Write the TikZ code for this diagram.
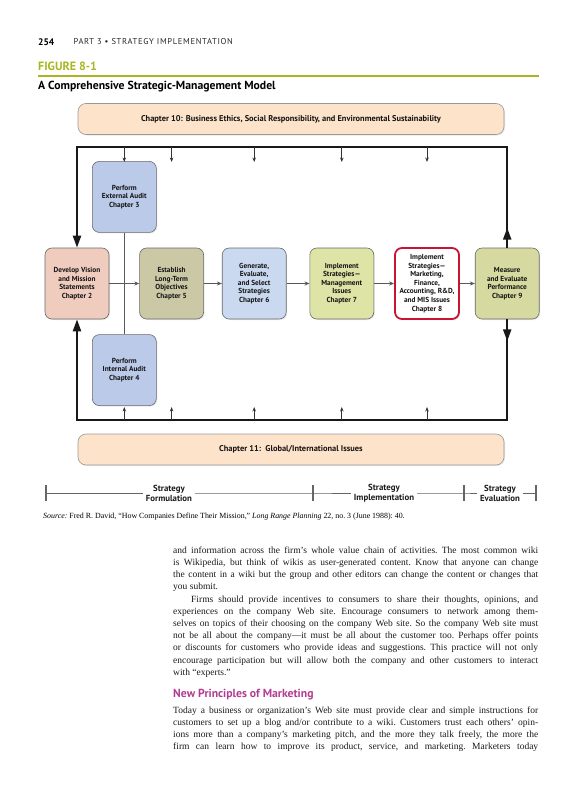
\documentclass[tikz,border=0pt]{standalone}
\usepackage{fontspec}
\setmainfont{Liberation Serif}
\setsansfont{PT Sans}
\usepackage{xcolor}
\usetikzlibrary{arrows.meta,calc,positioning,shadows,decorations.markings}

\definecolor{figgreen}{RGB}{168,182,32}
\definecolor{headpink}{RGB}{178,60,146}
\definecolor{peach}{RGB}{252,227,202}
\definecolor{salmon}{RGB}{240,204,190}
\definecolor{auditblue}{RGB}{186,202,232}
\definecolor{khaki}{RGB}{203,200,166}
\definecolor{paleblue}{RGB}{202,217,240}
\definecolor{limey}{RGB}{222,227,166}
\definecolor{olivey}{RGB}{214,218,160}
\definecolor{stratred}{RGB}{200,20,50}
\definecolor{boxline}{RGB}{105,105,105}

\newcommand{\bodyfont}{\fontsize{9.5}{12.2}\selectfont\frenchspacing}

\begin{document}
\begin{tikzpicture}[x=1pt,y=-1pt,>=Stealth,
    chapbox/.style={draw=boxline, line width=.6pt, rounded corners=7pt,
      minimum width=64pt, minimum height=71pt, inner sep=1pt, align=center,
      text=black!92, font=\sffamily\bfseries\fontsize{7.3}{8.6}\selectfont,
      drop shadow={shadow xshift=1pt, shadow yshift=-1pt, fill=black!18}},
    banner/.style={chapbox, fill=peach, draw=black!40, rounded corners=8pt,
      minimum width=426pt, minimum height=31pt,
      font=\sffamily\bfseries\fontsize{8.4}{10}\selectfont},
    flow/.style={draw=black!65, line width=.9pt, -{Stealth[length=5pt,width=4pt]}},
    feedback/.style={draw=black!90, line width=2.2pt, -{Triangle[length=12pt,width=8pt]}},
    tick/.style={draw=black!80, line width=.8pt, -{Stealth[length=4.5pt,width=3.5pt]}},
    scaleline/.style={draw=black!60, line width=.8pt},
    phase/.style={inner sep=3pt, align=center, text=black!90,
      font=\sffamily\bfseries\fontsize{8.8}{10}\selectfont}]
  \useasboundingbox (0,0) rectangle (576,800);
  \tikzstyle{pagetext}=[anchor=west, inner sep=0pt]

  % page head
  \node[pagetext, font=\sffamily\bfseries\fontsize{9.5}{11}\selectfont] (pgnum) at (38,42) {254};
  \node[pagetext, font=\sffamily\fontsize{8.5}{10}\selectfont\addfontfeature{LetterSpace=8}, text=black!85] (runhead) at (73.5,42) {PART 3 \textbullet\ STRATEGY IMPLEMENTATION};
  \node[pagetext, font=\sffamily\bfseries\fontsize{12}{14}\selectfont, text=figgreen] (figno) at (38,66) {FIGURE 8-1};
  \draw[figgreen, line width=1.6pt] (38,76) -- (539,76);
  \node[pagetext, font=\sffamily\bfseries\fontsize{11.7}{13}\selectfont] (figtitle) at (38,87) {A Comprehensive Strategic-Management Model};

  % banners
  \node[banner] (ethics) at (291,119) {Chapter 10: Business Ethics, Social Responsibility, and Environmental Sustainability};
  \node[banner] (global) at (291,449.5) {Chapter 11:\ \ Global/International Issues};

  % main row
  \node[chapbox, fill=salmon] (dev) at (77,283.5) {Develop Vision\\and Mission\\Statements\\Chapter 2};
  \node[chapbox, fill=khaki] (est) [right=30pt of dev] {Establish\\Long-Term\\Objectives\\Chapter 5};
  \node[chapbox, fill=paleblue] (gen) [right=18pt of est] {Generate,\\Evaluate,\\and Select\\Strategies\\Chapter 6};
  \node[chapbox, fill=limey] (imp) [right=23pt of gen] {Implement\\Strategies—\\Management\\Issues\\Chapter 7};
  \node[chapbox, fill=white, draw=stratred, line width=1.8pt] (mis) [right=20pt of imp] {Implement\\Strategies—\\Marketing,\\Finance,\\Accounting, R\&D,\\and MIS Issues\\Chapter 8};
  \node[chapbox, fill=olivey] (meas) [right=15pt of mis] {Measure\\and Evaluate\\Performance\\Chapter 9};

  % audits
  \coordinate (cross) at ($(dev.east)!.5!(est.west)$);
  \coordinate (audtop) at (dev.north -| cross);
  \coordinate (audbot) at (dev.south -| cross);
  \node[chapbox, fill=auditblue] (ext) [above=15pt of audtop] {Perform\\External Audit\\Chapter 3};
  \node[chapbox, fill=auditblue] (int) [below=15pt of audbot] {Perform\\Internal Audit\\Chapter 4};

  \path (ext) edge[draw=black!65, line width=.9pt] (int);
  \path[flow]
  (dev) edge (est)
  (est) edge (gen)
  (gen) edge (imp)
  (imp) edge (mis)
  (mis) edge (meas);

  % feedback frame
  \coordinate (ftop) at (0,147);
  \coordinate (fbot) at (0,420);
  \coordinate (ttip) at (0,162);
  \coordinate (btip) at (0,407);
  \draw[feedback, postaction={decorate}, decoration={markings,
      mark=at position 20pt with {\arrow{Triangle[length=12pt,width=8pt]}}}]
    (meas.north) |- (ftop -| dev.north) -- (dev.north);
  \draw[feedback, postaction={decorate}, decoration={markings,
      mark=at position 22pt with {\arrow{Triangle[length=12pt,width=8pt]}}}]
    (meas.south) |- (fbot -| dev.south) -- (dev.south);
  \foreach \n in {ext,est,gen,imp,mis}{
    \draw[tick] (\n.north |- ftop) -- (\n.north |- ttip);
  }
  \foreach \n in {int,est,gen,imp,mis}{
    \draw[tick] (\n.south |- fbot) -- (\n.south |- btip);
  }

  % phases
  \coordinate (t1) at (46,493);
  \coordinate (t2) at (313,493);
  \coordinate (t3) at (464,493);
  \coordinate (t4) at (536,493);
  \node[phase] (form) at (169,493) {Strategy\\Formulation};
  \node[phase] (implab) at (384,493) {Strategy\\Implementation};
  \node[phase] (evallab) at (500,493) {Strategy\\Evaluation};
  \draw[scaleline] (t1) -- (form) -- (t2) -- (implab) -- (t3) -- (evallab) -- (t4);
  \foreach \t in {t1,t2,t3,t4}{
    \draw[scaleline, line width=1.1pt] ([yshift=8pt]\t) -- ([yshift=-8pt]\t);
  }

  % source and text
  \node[pagetext, font=\fontsize{7.9}{10}\selectfont\frenchspacing] (source) at (43,517) {\textit{Source:} Fred R. David, “How Companies Define Their Mission,” \textit{Long Range Planning} 22, no. 3 (June 1988): 40.};

  \node[anchor=north west, inner sep=0pt, text width=365pt, align=justify, font=\bodyfont, text=black!90] (para) at (173,546.5) {%
    \tolerance=9000\parindent=0pt
    and information across the firm’s whole value chain of activities. The most common wiki\linebreak
    is Wikipedia, but think of wikis as user-generated content. Know that anyone can change\linebreak
    the content in a wiki but the group and other editors can change the content or changes that\linebreak
    you submit.\par
    \hspace*{18pt}Firms should provide incentives to consumers to share their thoughts, opinions, and\linebreak
    experiences on the company Web site. Encourage consumers to network among them-\linebreak
    selves on topics of their choosing on the company Web site. So the company Web site must\linebreak
    not be all about the company—it must be all about the customer too. Perhaps offer points\linebreak
    or discounts for customers who provide ideas and suggestions. This practice will not only\linebreak
    encourage participation but will allow both the company and other customers to interact\linebreak
    with “experts.”\par};
  \node[pagetext, text=headpink, font=\sffamily\bfseries\fontsize{11.7}{13}\selectfont] (newhead) at (173,695) {New Principles of Marketing};
  \node[anchor=north west, inner sep=0pt, text width=365pt, align=justify, font=\bodyfont, text=black!90] (para2) at (173,706.5) {%
    \tolerance=9000\parindent=0pt
    Today a business or organization’s Web site must provide clear and simple instructions for\linebreak
    customers to set up a blog and/or contribute to a wiki. Customers trust each others’ opin-\linebreak
    ions more than a company’s marketing pitch, and the more they talk freely, the more the\linebreak
    firm can learn how to improve its product, service, and marketing. Marketers today\parfillskip=0pt\par};
\end{tikzpicture}
\end{document}
